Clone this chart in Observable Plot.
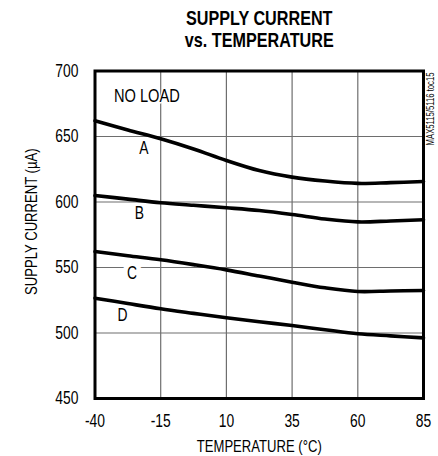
<!DOCTYPE html>
<html><head><meta charset="utf-8">
<script src="https://cdn.jsdelivr.net/npm/d3@7"></script>
<script src="https://cdn.jsdelivr.net/npm/@observablehq/plot@0.6"></script>
<style>
body{margin:0;background:#fff;}
</style>
</head><body><div id="chart"></div>
<script>
const temps = [-40, -27.5, -15, -2.5, 10, 22.5, 35, 47.5, 60, 72.5, 85];
const seriesA = [662, 655, 648.3, 640.5, 631.7, 624, 619, 616, 614.2, 614.8, 615.6];
const seriesB = [605, 602.2, 599.4, 597.5, 595.6, 593.5, 590.5, 587, 584.8, 585.5, 586.4];
const seriesC = [562.2, 559, 555.9, 552.2, 548.2, 543.5, 538.8, 534.5, 531.7, 532.1, 532.5];
const seriesD = [526.6, 522.5, 518.5, 515, 511.6, 508.6, 505.7, 502.5, 499.4, 497.8, 496.3];
const xTicks = [-40, -15, 10, 35, 60, 85];
const yTicks = [450, 500, 550, 600, 650, 700];
const curveLabels = [
  {name: "A", x: -21.4, y: 640.8},
  {name: "B", x: -23.1, y: 591.6},
  {name: "C", x: -25.9, y: 545.4},
  {name: "D", x: -29.5, y: 513.3}
];
const titleLines = ["SUPPLY CURRENT", "vs. TEMPERATURE"];
const xLabel = "TEMPERATURE (°C)";
const yLabel = "SUPPLY CURRENT (µA)";
const noteText = "NO LOAD";
const codeText = "MAX5115/5116 toc15";

const series = [["A", seriesA], ["B", seriesB], ["C", seriesC], ["D", seriesD]];
const data = series.flatMap(([name, vals]) => vals.map((v, i) => ({name, t: temps[i], v})));

const FONT = "'Liberation Sans', Arial, sans-serif";

const chart = Plot.plot({
  width: 438, height: 456,
  marginLeft: 94.5, marginRight: 15, marginTop: 70.5, marginBottom: 58,
  style: {fontFamily: FONT, background: "#fff", color: "#000"},
  x: {domain: [-40, 85]},
  y: {domain: [450, 700]},
  marks: [
    Plot.ruleX(xTicks.slice(1, -1), {stroke: "#6e6e6e", strokeWidth: 1.2}),
    Plot.ruleY(yTicks.slice(1, -1), {stroke: "#6e6e6e", strokeWidth: 1.2}),
    Plot.text([noteText], {x: -32.8, y: 680.9, text: d => d, textAnchor: "start", fontSize: 19, stroke: "white", strokeWidth: 3, fill: "black"}),
    Plot.line(data, {x: "t", y: "v", z: "name", curve: "catmull-rom", stroke: "black", strokeWidth: 3.6}),
    Plot.text(curveLabels, {x: "x", y: "y", text: "name", fontSize: 18, fill: "black", stroke: d => d.name === "C" ? "white" : "none", strokeWidth: 12, paintOrder: "stroke"}),
    Plot.frame({stroke: "black", strokeWidth: 3}),
    Plot.axisX(xTicks, {tickSize: 0, tickPadding: 16, fontSize: 18, label: null, tickFormat: d => String(d)}),
    Plot.axisY(yTicks, {tickSize: 0, tickPadding: 16.5, fontSize: 18, label: null, tickFormat: d => String(d)}),
    Plot.text([xLabel], {frameAnchor: "bottom", text: d => d, dy: 48, fontSize: 17, textAnchor: "middle", lineAnchor: "middle"}),
    Plot.text([yLabel], {frameAnchor: "left", y: 585, text: d => d, rotate: -90, dx: -63.5, fontSize: 17, textAnchor: "middle", lineAnchor: "middle"}),
    Plot.text([titleLines[0]], {frameAnchor: "top", text: d => d, dy: -53, fontSize: 21, fontWeight: "bold", fill: "black", textAnchor: "middle", lineAnchor: "middle"}),
    Plot.text([titleLines[1]], {frameAnchor: "top", text: d => d, dy: -30.5, fontSize: 21, fontWeight: "bold", fill: "black", textAnchor: "middle", lineAnchor: "middle"}),
    Plot.text([codeText], {frameAnchor: "top-right", text: d => d, rotate: -90, dx: 7.5, dy: 1.5, textAnchor: "end", lineAnchor: "middle", fontSize: 10})
  ]
});
document.getElementById("chart").appendChild(chart);

// condense glyphs horizontally to mimic a condensed typeface
chart.querySelectorAll("text").forEach(t => {
  const targets = t.querySelectorAll("tspan").length ? t.querySelectorAll("tspan") : [t];
  targets.forEach(el => {
    const len = el.getComputedTextLength();
    if (len > 0) {
      el.setAttribute("textLength", (len * 0.77).toFixed(2));
      el.setAttribute("lengthAdjust", "spacingAndGlyphs");
    }
  });
});
</script>
</body></html>
